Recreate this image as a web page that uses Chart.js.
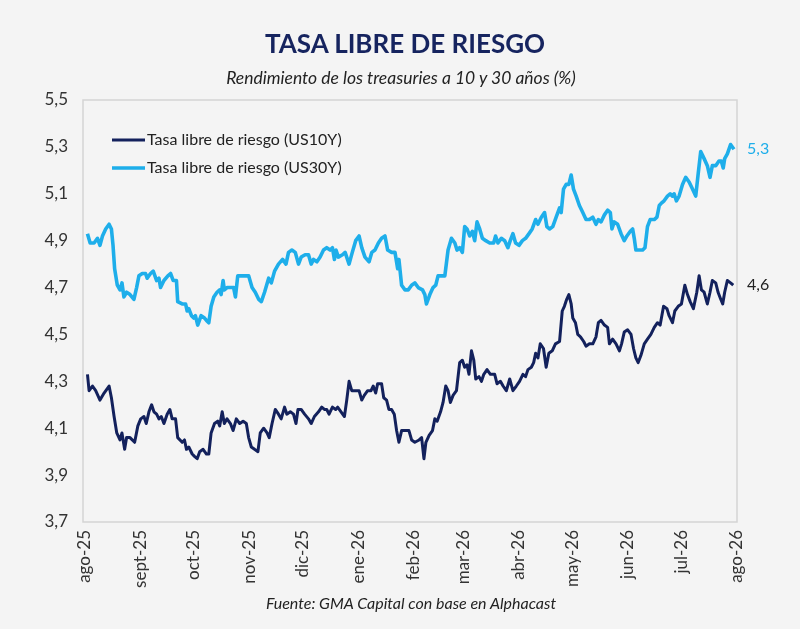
<!DOCTYPE html>
<html lang="es">
<head>
<meta charset="utf-8">
<title>Tasa libre de riesgo</title>
<script src="https://cdn.jsdelivr.net/npm/chart.js@4.4.1/dist/chart.umd.min.js"></script>
<style>
  html, body { margin: 0; padding: 0; background: #f4f4f4; }
  #wrap { position: relative; width: 800px; height: 629px; font-family: Lato, "Open Sans", sans-serif; }
  #wrap canvas { position: absolute; left: 0; top: 0; }
  .txt { position: absolute; left: 0; width: 810px; text-align: center; white-space: nowrap; }
  #title { top: 29px; font-size: 26px; line-height: 28px; font-weight: bold; color: #16245f; }
  #subtitle { top: 68px; font-size: 17.5px; line-height: 20px; font-style: italic; color: #222; left: -4px; }
  #source { top: 594px; font-size: 16px; line-height: 18px; font-style: italic; color: #222; left: 6px; }
</style>
</head>
<body>
<div id="wrap">
  <canvas id="rateChart" width="800" height="629"></canvas>
  <div class="txt" id="title">TASA LIBRE DE RIESGO</div>
  <div class="txt" id="subtitle">Rendimiento de los treasuries a 10 y 30 años (%)</div>
  <div class="txt" id="source">Fuente: GMA Capital con base en Alphacast</div>
</div>
<script>
// === Axis labels (x = days since 31-jul-25) ===
const monthLabels = ["ago-25", "sept-25", "oct-25", "nov-25", "dic-25", "ene-26",
  "feb-26", "mar-26", "abr-26", "may-26", "jun-26", "jul-26", "ago-26"];
const monthDays = [0, 31, 61, 92, 122, 153, 184, 212, 243, 273, 304, 334, 365];
const yMin = 3.7, yMax = 5.5, yStep = 0.2;

// === US10Y ===
const days10 = [1.5,2.4,4.3,6.1,8.5,10.8,13.6,14.9,16.4,17.9,
  19.7,20.8,22.3,23.4,25.3,27.9,29.7,31.3,33.1,34.4,
  35.9,37.4,38.7,40.2,41.5,42.8,44.3,46.1,47.6,48.9,
  50.8,52.0,54.5,55.8,56.9,58.2,60.1,61.4,62.9,64.3,
  66.2,68.1,69.4,70.7,72.6,74.4,75.5,76.9,78.1,79.6,
  81.5,83.0,84.8,86.7,88.6,90.4,91.7,93.2,95.0,96.9,
  98.2,100.1,102.0,103.2,104.8,106.6,108.4,109.9,111.8,113.1,
  115.0,116.8,118.2,119.3,121.1,123.0,125.2,126.7,128.5,130.8,
  132.6,134.1,135.4,136.7,138.6,140.4,141.5,143.4,145.3,146.6,
  147.9,149.4,151.6,153.5,155.0,156.4,158.3,160.2,161.4,162.8,
  163.9,166.1,167.3,168.9,170.2,171.7,173.2,174.5,175.8,177.3,
  179.2,181.4,182.9,184.7,187.1,188.5,189.8,190.9,192.7,194.6,
  195.9,197.2,199.1,200.5,202.0,203.3,204.6,206.1,208.0,209.8,
  211.3,212.6,213.9,215.0,216.4,217.7,218.8,220.6,222.0,223.3,
  225.1,227.0,229.4,230.7,232.6,234.1,235.9,237.8,239.6,241.5,
  243.3,245.2,246.7,248.0,249.9,251.2,252.3,253.6,254.9,256.7,
  258.2,259.7,261.6,263.4,265.7,267.2,268.4,269.7,270.9,272.2,
  273.1,274.6,275.9,277.4,279.2,280.5,282.4,284.3,286.1,287.4,
  288.9,290.8,292.6,293.6,295.4,297.3,299.2,300.4,301.9,303.8,
  305.7,307.1,308.4,309.7,311.2,313.1,314.9,316.8,318.7,320.5,
  322.0,323.9,325.8,327.0,328.9,330.2,332.1,333.9,335.8,337.3,
  338.8,340.6,342.5,343.8,345.1,346.6,348.4,349.9,351.2,353.1,
  354.4,355.9,357.0,358.1,359.6,361.4,362.9];
const us10y = [4.33,4.26,4.28,4.26,4.22,4.25,4.28,4.23,4.15,4.08,
  4.05,4.08,4.01,4.06,4.06,4.04,4.11,4.14,4.15,4.12,
  4.17,4.20,4.17,4.16,4.14,4.15,4.12,4.16,4.18,4.14,
  4.14,4.06,4.04,4.05,4.01,4.02,3.99,3.98,3.97,4.00,
  4.01,3.99,3.99,4.08,4.12,4.13,4.11,4.17,4.12,4.14,
  4.12,4.09,4.14,4.12,4.13,4.12,4.06,4.02,4.01,4.00,
  4.08,4.10,4.08,4.06,4.12,4.18,4.16,4.14,4.19,4.16,
  4.17,4.16,4.12,4.18,4.18,4.16,4.14,4.12,4.15,4.17,
  4.19,4.18,4.18,4.16,4.19,4.18,4.19,4.17,4.15,4.22,
  4.30,4.26,4.26,4.26,4.22,4.24,4.26,4.26,4.28,4.25,
  4.29,4.29,4.23,4.22,4.18,4.18,4.16,4.09,4.04,4.09,
  4.09,4.09,4.05,4.04,4.05,4.06,3.97,4.04,4.07,4.09,
  4.14,4.13,4.17,4.21,4.28,4.26,4.21,4.24,4.26,4.38,
  4.39,4.36,4.37,4.33,4.43,4.39,4.31,4.32,4.30,4.33,
  4.35,4.33,4.33,4.29,4.30,4.28,4.26,4.31,4.26,4.28,
  4.30,4.33,4.32,4.35,4.36,4.38,4.42,4.40,4.46,4.44,
  4.36,4.42,4.43,4.46,4.47,4.60,4.62,4.65,4.67,4.63,
  4.57,4.55,4.50,4.49,4.47,4.45,4.46,4.46,4.49,4.55,
  4.56,4.54,4.53,4.46,4.48,4.46,4.43,4.46,4.51,4.52,
  4.50,4.44,4.40,4.38,4.41,4.46,4.48,4.50,4.53,4.55,
  4.54,4.62,4.61,4.58,4.55,4.60,4.62,4.63,4.71,4.67,
  4.64,4.61,4.68,4.75,4.69,4.68,4.63,4.68,4.73,4.72,
  4.68,4.65,4.63,4.68,4.73,4.72,4.71];

// === US30Y ===
const days30 = [1.5,3.0,5.2,7.1,8.5,9.9,11.7,13.6,14.9,15.8,
  16.7,18.2,19.7,20.8,21.9,23.4,25.3,27.5,29.0,30.3,
  32.2,34.0,34.9,36.8,38.3,40.2,41.5,42.4,44.3,46.5,
  48.0,49.5,51.3,52.0,54.5,56.4,57.3,58.2,59.7,61.0,
  61.9,63.2,65.1,67.0,68.1,69.4,70.7,72.2,74.0,75.5,
  76.3,77.4,78.1,79.6,81.5,83.3,84.3,85.6,87.1,88.9,
  90.8,91.7,93.6,95.4,97.3,98.8,100.6,102.9,104.4,106.2,
  108.4,110.7,112.6,114.0,115.9,117.8,119.6,121.1,123.3,125.2,
  126.7,128.0,129.9,131.7,133.6,135.4,137.3,138.6,139.7,140.6,
  141.9,144.2,145.7,147.9,149.7,151.6,153.5,155.0,156.8,159.1,
  160.6,162.4,164.3,166.1,168.0,169.5,171.7,173.6,175.1,175.8,
  177.3,179.2,181.0,182.9,184.7,186.6,189.0,190.3,191.2,193.1,
  194.9,196.4,197.7,199.6,201.5,203.3,205.2,207.1,208.3,209.8,
  211.3,212.6,213.9,215.4,216.9,218.2,219.5,221.0,222.5,224.4,
  226.6,228.8,229.9,231.2,233.1,235.0,236.8,238.1,239.6,241.1,
  243.0,244.9,246.7,248.6,250.4,252.3,253.6,255.5,257.3,258.6,
  260.1,261.9,263.8,265.7,266.6,267.9,269.4,270.9,272.2,273.5,
  275.0,276.8,278.7,280.5,282.4,284.3,286.1,287.4,288.9,290.8,
  292.6,294.1,295.0,296.3,298.2,300.1,301.9,303.4,305.3,306.6,
  307.5,308.4,310.3,312.2,313.5,314.9,316.4,318.7,320.2,321.5,
  322.7,324.2,326.1,327.6,328.9,329.8,331.1,332.6,334.5,336.3,
  338.2,340.1,341.9,343.2,344.7,346.6,348.4,349.9,351.2,353.1,
  354.9,356.2,357.3,358.1,359.6,361.4,363.3];
const us30y = [4.93,4.89,4.89,4.91,4.88,4.92,4.95,4.97,4.95,4.88,
  4.78,4.71,4.69,4.72,4.66,4.68,4.67,4.65,4.70,4.75,
  4.76,4.76,4.74,4.76,4.77,4.73,4.74,4.70,4.73,4.75,
  4.76,4.73,4.73,4.64,4.63,4.63,4.60,4.61,4.58,4.57,
  4.58,4.54,4.58,4.57,4.56,4.55,4.62,4.66,4.68,4.69,
  4.67,4.73,4.69,4.70,4.70,4.70,4.66,4.75,4.75,4.75,
  4.75,4.75,4.70,4.68,4.65,4.64,4.68,4.74,4.72,4.77,
  4.80,4.82,4.80,4.85,4.86,4.85,4.80,4.83,4.84,4.84,
  4.80,4.82,4.81,4.83,4.86,4.87,4.86,4.87,4.82,4.86,
  4.83,4.84,4.85,4.80,4.85,4.90,4.92,4.87,4.83,4.81,
  4.85,4.86,4.89,4.91,4.92,4.86,4.85,4.85,4.78,4.82,
  4.71,4.69,4.69,4.71,4.72,4.70,4.69,4.67,4.63,4.67,
  4.70,4.71,4.75,4.75,4.75,4.86,4.91,4.89,4.86,4.87,
  4.85,4.96,4.95,4.92,4.94,4.90,4.98,4.95,4.91,4.90,
  4.89,4.89,4.92,4.89,4.91,4.90,4.87,4.90,4.93,4.89,
  4.88,4.90,4.91,4.93,4.95,4.99,4.97,5.00,5.02,4.96,
  4.95,4.96,5.00,5.04,5.02,5.12,5.14,5.14,5.18,5.12,
  5.09,5.05,5.02,4.99,4.99,5.00,4.97,4.99,4.98,5.01,
  5.03,5.02,4.95,4.98,4.97,4.93,4.90,4.92,4.94,4.95,
  4.91,4.86,4.86,4.86,4.87,4.96,4.99,4.99,5.00,5.05,
  5.06,5.07,5.09,5.10,5.09,5.10,5.07,5.09,5.14,5.17,
  5.15,5.12,5.09,5.18,5.28,5.25,5.22,5.17,5.22,5.22,
  5.24,5.24,5.21,5.25,5.27,5.31,5.29];

// === Series labels and the value tags at the right end ===
const seriesNames = ["Tasa libre de riesgo (US10Y)", "Tasa libre de riesgo (US30Y)"];
const endLabels = ["4,6", "5,3"];

const NAVY = "#13215c";
const SKY = "#1eaeea";

// frame around the plot area
const framePlugin = {
  id: "frame",
  beforeDatasetsDraw(chart) {
    const { ctx, chartArea: a } = chart;
    ctx.save();
    ctx.strokeStyle = "#d4d4d4";
    ctx.lineWidth = 1.5;
    ctx.strokeRect(a.left, a.top, a.right - a.left, a.bottom - a.top);
    ctx.restore();
  },
};

// legend inside the plot, top left
const innerLegend = {
  id: "innerLegend",
  afterDatasetsDraw(chart) {
    const { ctx, chartArea: a } = chart;
    ctx.save();
    ctx.font = "16px Lato, sans-serif";
    ctx.textBaseline = "middle";
    chart.data.datasets.forEach((ds, i) => {
      const y = a.top + 40 + i * 28;
      ctx.strokeStyle = ds.borderColor;
      ctx.lineWidth = ds.borderWidth;
      ctx.beginPath();
      ctx.moveTo(a.left + 29, y);
      ctx.lineTo(a.left + 62, y);
      ctx.stroke();
      ctx.fillStyle = "#222";
      ctx.fillText(ds.label, a.left + 64, y);
    });
    ctx.restore();
  },
};

// value tags next to the last point of each line
const endTags = {
  id: "endTags",
  afterDatasetsDraw(chart) {
    const { ctx, scales } = chart;
    ctx.save();
    ctx.font = "16px Lato, sans-serif";
    ctx.textBaseline = "middle";
    chart.data.datasets.forEach((ds, i) => {
      const last = ds.data[ds.data.length - 1];
      ctx.fillStyle = i === 0 ? "#222" : SKY;
      ctx.fillText(endLabels[i], chart.chartArea.right + 10, scales.y.getPixelForValue(last.y));
    });
    ctx.restore();
  },
};

const ctx = document.getElementById("rateChart").getContext("2d");
new Chart(ctx, {
  type: "line",
  data: {
    datasets: [
      {
        label: seriesNames[0],
        data: days10.map((d, i) => ({ x: d, y: us10y[i] })),
        borderColor: NAVY,
        borderWidth: 3,
        pointRadius: 0,
        tension: 0,
        borderJoinStyle: "round",
      },
      {
        label: seriesNames[1],
        data: days30.map((d, i) => ({ x: d, y: us30y[i] })),
        borderColor: SKY,
        borderWidth: 3.6,
        pointRadius: 0,
        tension: 0,
        borderJoinStyle: "round",
      },
    ],
  },
  options: {
    responsive: false,
    animation: false,
    layout: { padding: { top: 100, right: 63, left: 0, bottom: 0 } },
    plugins: {
      legend: { display: false },
      tooltip: { enabled: false },
    },
    scales: {
      x: {
        type: "linear",
        min: -1,
        max: 365,
        afterBuildTicks: (scale) => {
          scale.ticks = monthDays.map((v) => ({ value: v }));
        },
        afterFit: (scale) => { scale.height = 107; },
        ticks: {
          autoSkip: false,
          minRotation: 90,
          maxRotation: 90,
          padding: 8,
          color: "#333",
          font: { family: "Lato", size: 17 },
          callback: (v, i) => monthLabels[i],
        },
        grid: { display: false, drawTicks: false },
        border: { display: false },
      },
      y: {
        min: yMin,
        max: yMax,
        afterFit: (scale) => { scale.width = 83; },
        ticks: {
          stepSize: yStep,
          padding: 15,
          color: "#333",
          font: { family: "Lato", size: 17 },
          callback: (v) => v.toFixed(1).replace(".", ","),
        },
        grid: { display: false, drawTicks: false },
        border: { display: false },
      },
    },
  },
  plugins: [framePlugin, innerLegend, endTags],
});
</script>
</body>
</html>
